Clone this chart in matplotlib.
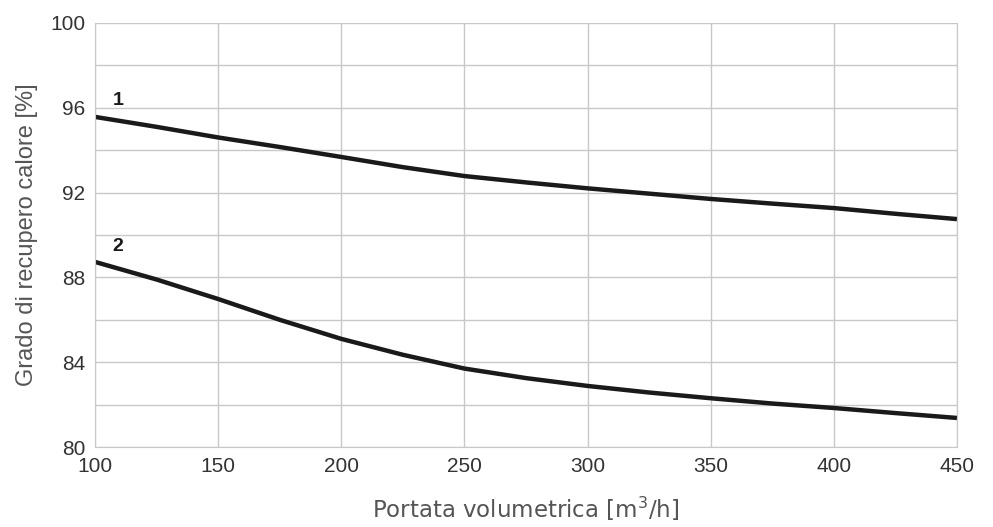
import matplotlib
matplotlib.use('Agg')
import matplotlib.pyplot as plt

# flow rate [m3/h]
portata = [100, 125, 150, 175, 200, 225, 250, 275, 300, 325, 350, 375, 400, 425, 450]
# heat recovery curves [%]
curva1 = [95.57, 95.1, 94.6, 94.15, 93.68, 93.2, 92.78, 92.48, 92.2, 91.95, 91.7, 91.48, 91.27, 91.0, 90.75]
curva2 = [88.73, 87.9, 86.98, 86.0, 85.1, 84.35, 83.7, 83.25, 82.88, 82.57, 82.3, 82.05, 81.84, 81.6, 81.37]

xticks = [100, 150, 200, 250, 300, 350, 400, 450]
yticks = [80, 84, 88, 92, 96, 100]

fig = plt.figure(figsize=(9.93, 5.27), dpi=100)
ax = fig.add_axes([0.0957, 0.1518, 0.868, 0.8046])

ax.plot(portata, curva1, color='#1a1a1a', lw=3.2, solid_capstyle='butt')
ax.plot(portata, curva2, color='#1a1a1a', lw=3.2, solid_capstyle='butt')

ax.text(107, 95.95, '1', fontsize=14, fontweight='bold', family='Liberation Sans', color='#1a1a1a', va='bottom')
ax.text(107, 89.05, '2', fontsize=14, fontweight='bold', family='Liberation Sans', color='#1a1a1a', va='bottom')

ax.set_xlim(100, 450)
ax.set_ylim(80, 100)
ax.set_xticks(xticks)
ax.set_yticks(yticks)
ax.set_yticks(range(80, 101, 2), minor=True)
ax.grid(True, which='both', color='#c8c8c8', lw=1)
ax.tick_params(which='both', length=0, labelsize=15, labelcolor='#333333', pad=7)
for lab in ax.get_xticklabels() + ax.get_yticklabels():
    lab.set_family('Liberation Sans')
for s in ax.spines.values():
    s.set_color('#c8c8c8')
ax.spines['top'].set_visible(False)

ax.set_xlabel('Portata volumetrica [m$^3$/h]', fontsize=16.5, color='#555555', labelpad=14)
ax.set_ylabel('Grado di recupero calore [%]', fontsize=17, family='Liberation Sans',
              color='#555555', labelpad=9)

fig.savefig('out.png', dpi=100)
